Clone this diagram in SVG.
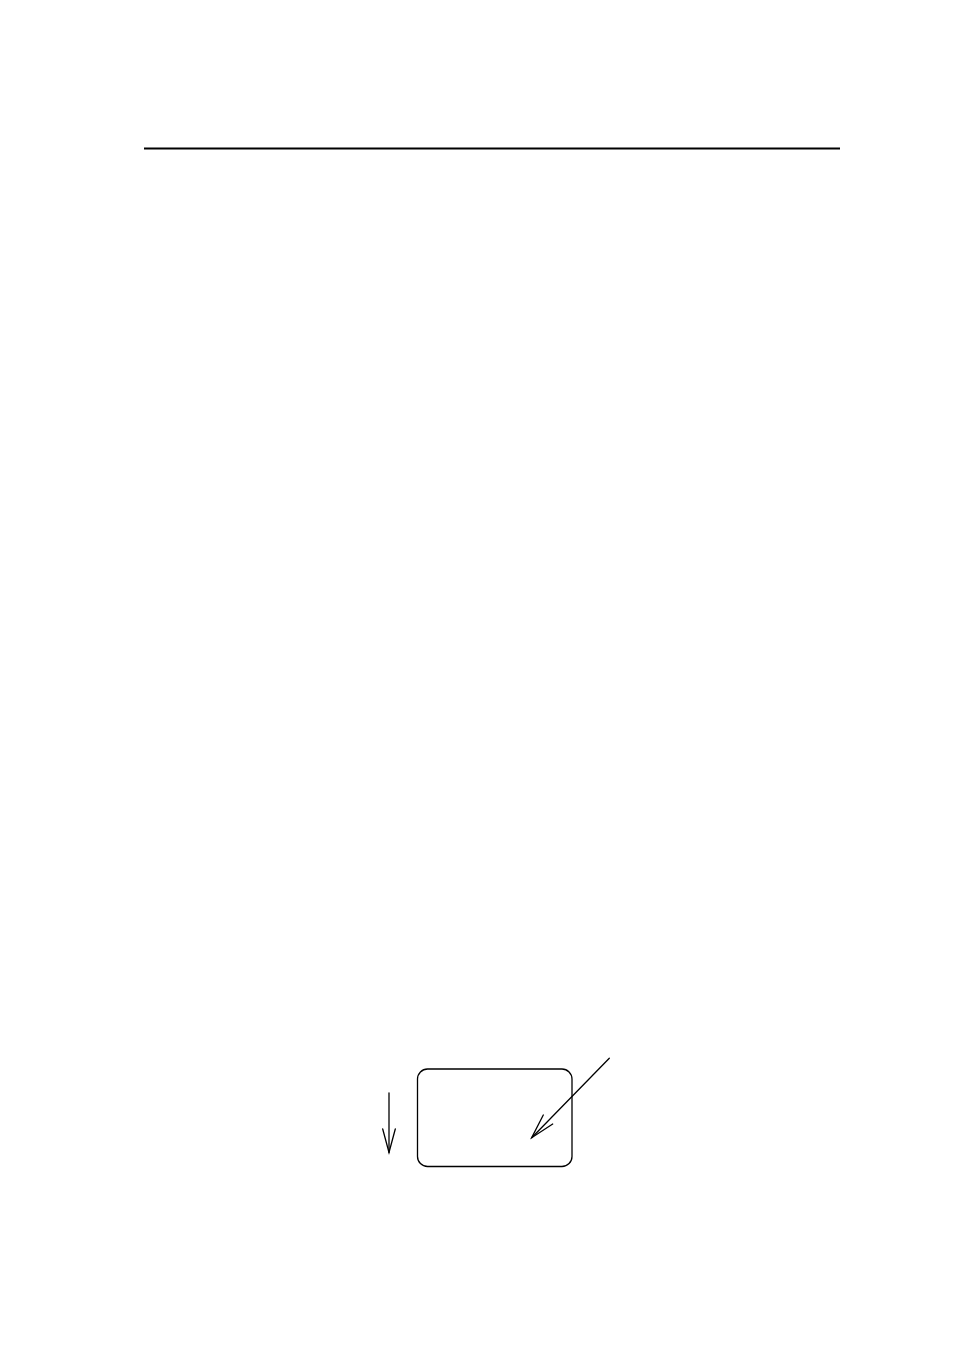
<svg xmlns="http://www.w3.org/2000/svg" width="954" height="1348" viewBox="0 0 954 1348">
<style>
.ln{stroke:#000;fill:none;stroke-width:1.3;stroke-linecap:round}
</style>
<rect width="954" height="1348" fill="#fff"/>
<line x1="144" y1="148.5" x2="840" y2="148.5" stroke="#000" stroke-width="2"/>
<g id="box">
<rect x="417.5" y="1069" width="154.5" height="97.5" rx="10" ry="10" class="ln"/>
</g>
<g id="connectors">
<line x1="389" y1="1093" x2="389" y2="1152.5" class="ln" stroke-width="1.6"/>
<polyline points="382.7,1129 389,1152.5 395.3,1129" class="ln"/>
<line x1="609.3" y1="1058.3" x2="531.7" y2="1137.7" class="ln"/>
<polyline points="543.3,1115 531.7,1137.7 552.7,1124" class="ln"/>
</g>
</svg>
